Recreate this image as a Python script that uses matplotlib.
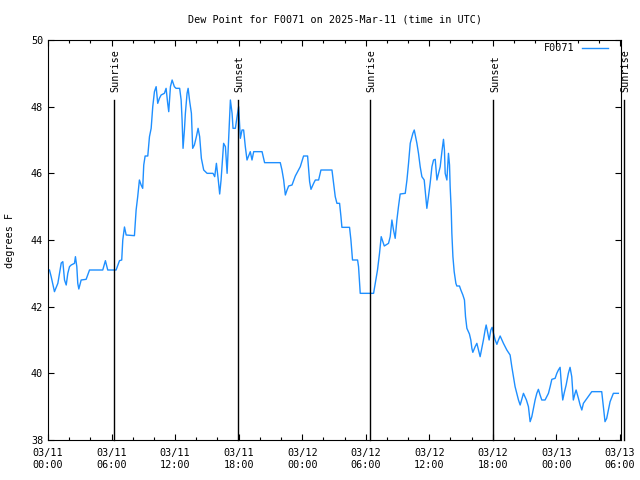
import pandas as pd
import matplotlib
matplotlib.use("Agg")
import matplotlib.pyplot as plt
import matplotlib.dates as mdates

# hours after 2025-03-11 00:00 UTC and dew point in degrees F
hours = [0.14, 0.30, 0.61, 0.93, 1.25, 1.40, 1.56, 1.72, 1.87, 2.03, 2.19, 2.50, 2.59, 2.72,
         2.81, 2.91, 3.13, 3.60, 3.92, 5.17, 5.42, 5.64, 6.43, 6.75, 6.96, 7.06, 7.22, 7.38,
         8.16, 8.32, 8.47, 8.63, 8.79, 8.94, 9.04, 9.17, 9.42, 9.58, 9.74, 9.89, 10.05, 10.21,
         10.36, 10.52, 10.68, 10.99, 11.15, 11.30, 11.40, 11.56, 11.72, 11.93, 12.09, 12.43,
         12.57, 12.66, 12.75, 12.88, 12.97, 13.13, 13.23, 13.38, 13.54, 13.66, 13.82, 14.01,
         14.17, 14.32, 14.48, 14.70, 15.02, 15.58, 15.74, 15.90, 16.06, 16.21, 16.34, 16.58,
         16.75, 16.91, 17.06, 17.22, 17.38, 17.47, 17.69, 17.85, 18.00, 18.16, 18.32, 18.47,
         18.63, 18.79, 19.10, 19.26, 19.42, 20.21, 20.45, 21.93, 22.09, 22.25, 22.41, 22.57,
         22.72, 23.04, 23.35, 23.82, 24.13, 24.51, 24.70, 24.83, 25.08, 25.24, 25.55, 25.77,
         26.81, 26.96, 27.12, 27.28, 27.53, 27.66, 27.75, 28.47, 28.60, 28.75, 29.23, 29.32,
         29.48, 30.74, 30.90, 31.11, 31.30, 31.46, 31.56, 31.75, 32.15, 32.31, 32.47, 32.62,
         32.78, 32.94, 33.09, 33.25, 33.73, 33.89, 34.04, 34.20, 34.45, 34.58, 34.83, 34.98,
         35.14, 35.30, 35.52, 35.64, 35.77, 35.92, 36.08, 36.25, 36.40, 36.56, 36.72, 37.03,
         37.19, 37.34, 37.43, 37.50, 37.66, 37.81, 37.91, 37.97, 38.07, 38.13, 38.23, 38.35,
         38.51, 38.60, 38.85, 38.98, 39.17, 39.32, 39.42, 39.55, 39.79, 39.92, 40.02, 40.11,
         40.33, 40.49, 40.64, 40.80, 40.96, 41.11, 41.27, 41.37, 41.53, 41.65, 41.81, 41.93,
         42.06, 42.22, 42.38, 42.53, 42.69, 43.00, 43.32, 43.63, 43.79, 43.94, 44.10, 44.26,
         44.42, 44.58, 44.89, 45.17, 45.36, 45.52, 45.68, 45.83, 45.99, 46.15, 46.30, 46.46,
         46.62, 46.93, 47.25, 47.41, 47.57, 47.88, 48.04, 48.19, 48.35, 48.51, 48.60, 48.73,
         48.92, 49.13, 49.29, 49.45, 49.60, 49.76, 49.86, 50.08, 50.24, 50.40, 50.55, 50.71,
         51.02, 51.34, 52.28, 52.43, 52.59, 52.75, 52.91, 53.07, 53.38, 53.85]
dewpoint = [43.10, 42.90, 42.45, 42.70, 43.31, 43.35, 42.80, 42.65, 43.00, 43.20, 43.25, 43.30, 43.50, 43.20,
            42.70, 42.53, 42.80, 42.82, 43.10, 43.10, 43.38, 43.10, 43.10, 43.38, 43.40, 44.00, 44.39, 44.15,
            44.13, 44.90, 45.30, 45.80, 45.65, 45.55, 46.25, 46.52, 46.52, 47.10, 47.35, 48.00, 48.45, 48.60,
            48.10, 48.25, 48.35, 48.40, 48.55, 48.10, 47.85, 48.60, 48.80, 48.60, 48.55, 48.55,
            48.20, 47.60, 46.75, 47.30, 47.80, 48.40, 48.55, 48.15, 47.80, 46.75, 46.85, 47.10,
            47.35, 47.10, 46.45, 46.10, 46.00, 46.00, 45.90, 46.30, 45.85, 45.38, 45.80, 46.90,
            46.80, 46.00, 47.10, 48.20, 47.80, 47.35, 47.35, 47.70, 48.00, 47.05, 47.30, 47.30,
            46.80, 46.40, 46.65, 46.40, 46.65, 46.65, 46.32, 46.32, 46.10, 45.80, 45.35, 45.50,
            45.62, 45.65, 45.92, 46.20, 46.52, 46.52, 45.75, 45.52, 45.70, 45.80, 45.80, 46.10,
            46.10, 45.70, 45.30, 45.10, 45.10, 44.70, 44.38, 44.38, 44.00, 43.40, 43.40, 43.20,
            42.40, 42.40, 42.70, 43.10, 43.60, 44.10, 44.00, 43.82, 43.90, 44.10, 44.60, 44.30,
            44.05, 44.60, 45.00, 45.38, 45.40, 45.80, 46.30, 46.90, 47.20, 47.30, 46.90, 46.60,
            46.20, 45.90, 45.80, 45.40, 44.95, 45.30, 45.70, 46.20, 46.40, 46.42, 45.80, 46.20,
            46.65, 47.02, 46.70, 46.00, 45.80, 46.60, 46.25, 45.60, 44.90, 44.20, 43.50, 43.05,
            42.70, 42.62, 42.62, 42.50, 42.35, 42.20, 41.70, 41.35, 41.18, 41.00, 40.75, 40.63,
            40.80, 40.90, 40.70, 40.50, 40.75, 41.00, 41.30, 41.45, 41.20, 41.00, 41.30, 41.38,
            41.20, 41.00, 40.87, 41.00, 41.12, 40.90, 40.70, 40.55, 40.20, 39.90, 39.60, 39.40,
            39.20, 39.05, 39.40, 39.20, 39.00, 38.55, 38.70, 38.95, 39.20, 39.40, 39.52, 39.35,
            39.20, 39.20, 39.40, 39.60, 39.82, 39.85, 40.00, 40.10, 40.18, 39.50, 39.20, 39.40,
            39.65, 40.00, 40.18, 39.90, 39.20, 39.40, 39.50, 39.25, 39.05, 38.90, 39.10, 39.17,
            39.30, 39.45, 39.45, 39.00, 38.55, 38.65, 38.90, 39.15, 39.40, 39.40]

# sun events (hours after start)
event_names = ["Sunrise", "Sunset", "Sunrise", "Sunset", "Sunrise"]
event_hours = [6.2, 17.9, 30.36, 42.06, 54.36]

start = pd.Timestamp("2025-03-11 00:00")
times = start + pd.to_timedelta(hours, unit="h")
events = start + pd.to_timedelta(event_hours, unit="h")
x_end = start + pd.to_timedelta(54.1, unit="h")

font = "DejaVu Sans Mono"
fs = 7.3

fig = plt.figure(figsize=(6.4, 4.8), dpi=100)
ax = fig.add_axes([48 / 640, 40 / 480, (621 - 48) / 640, 400 / 480])

ax.plot(times, dewpoint, color="#1e8fff", lw=1.0, label="F0071")

# sunrise / sunset markers
for name, t in zip(event_names, events):
    ax.plot([t, t], [38, 48.2], color="black", lw=1.0, clip_on=False)
    ax.text(t + pd.Timedelta(minutes=12), 48.45, name, rotation=90, ha="center", va="bottom",
            fontsize=fs, family=font, clip_on=False)

ax.set_xlim(start, x_end)
ax.set_ylim(38, 50)
ax.set_yticks([38, 40, 42, 44, 46, 48, 50])
ax.xaxis.set_major_locator(mdates.HourLocator(byhour=[0, 6, 12, 18]))
ax.xaxis.set_minor_locator(mdates.HourLocator(byhour=range(0, 24, 2)))
ax.xaxis.set_major_formatter(mdates.DateFormatter("%m/%d\n%H:%M"))

ax.tick_params(which="both", direction="in", top=True, right=True, labelsize=fs)
ax.tick_params(which="major", length=4, width=0.8)
ax.tick_params(which="minor", length=2.5, width=0.8)
ax.tick_params(axis="x", pad=6)
for lab in ax.get_xticklabels() + ax.get_yticklabels():
    lab.set_family(font)
for s in ax.spines.values():
    s.set_linewidth(0.8)

leg = ax.legend(loc="upper right", bbox_to_anchor=(0.9895, 1.01), frameon=False,
                markerfirst=False, handlelength=2.6, handletextpad=0.7,
                prop={"family": font, "size": fs}, borderaxespad=0.3)

fig.text((48 + 621) / 2 / 640, 1 - 20 / 480, "Dew Point for F0071 on 2025-Mar-11 (time in UTC)",
         ha="center", va="center", fontsize=fs, family=font)
fig.text(10 / 640, 0.5, "degrees F", rotation=90, ha="center", va="center",
         fontsize=fs, family=font)

fig.savefig("out.png", dpi=100)
